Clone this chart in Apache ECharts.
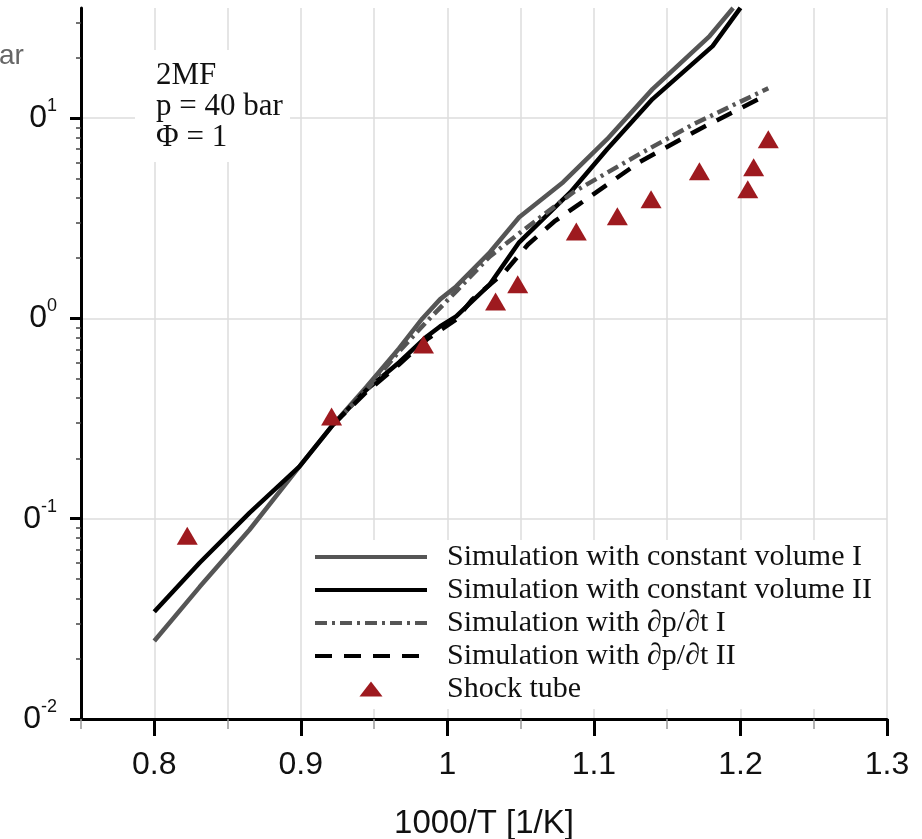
<!DOCTYPE html>
<html>
<head>
<meta charset="utf-8">
<script src="https://cdn.jsdelivr.net/npm/echarts@6/dist/echarts.min.js"></script>
<style>
html,body{margin:0;padding:0;background:#fff;}
#chart{width:922px;height:839px;}
</style>
</head>
<body>
<div id="chart"></div>
<script>
// ---- data ----
var constVolIX  = [0.800, 0.831, 0.865, 0.899, 0.922, 0.945, 0.967, 0.983, 0.995, 1.006, 1.029, 1.049, 1.079, 1.109, 1.140, 1.179, 1.195];
var constVolIY  = [0.0245, 0.0457, 0.0881, 0.182, 0.295, 0.457, 0.708, 1.00, 1.245, 1.445, 2.14, 3.20, 4.79, 7.85, 13.96, 25.7, 35.5];

var constVolIIX = [0.800, 0.831, 0.865, 0.899, 0.922, 0.945, 0.967, 0.986, 0.995, 1.006, 1.029, 1.049, 1.084, 1.109, 1.140, 1.181, 1.200];
var constVolIIY = [0.0343, 0.0603, 0.107, 0.182, 0.295, 0.442, 0.603, 0.813, 0.912, 1.023, 1.48, 2.40, 4.27, 7.00, 12.45, 22.9, 35.5];

var dpdtIX  = [0.922, 0.945, 0.967, 0.986, 1.006, 1.029, 1.049, 1.086, 1.131, 1.168, 1.219];
var dpdtIY  = [0.295, 0.440, 0.684, 0.966, 1.365, 2.04, 2.66, 4.27, 6.61, 9.33, 14.1];

var dpdtIIX = [0.922, 0.945, 0.967, 0.986, 1.006, 1.017, 1.039, 1.055, 1.073, 1.090, 1.131, 1.172, 1.219];
var dpdtIIY = [0.295, 0.431, 0.589, 0.785, 0.989, 1.245, 1.70, 2.34, 3.05, 3.72, 6.03, 8.81, 13.18];

var shockX = [0.8225, 0.921, 0.9837, 1.0329, 1.048, 1.088, 1.116, 1.139, 1.172, 1.205, 1.209, 1.219];
var shockY = [0.0822, 0.324, 0.741, 1.216, 1.48, 2.72, 3.24, 3.94, 5.43, 4.42, 5.69, 7.85];

var seriesNames = ['Simulation with constant volume I', 'Simulation with constant volume II',
                   'Simulation with \u2202p/\u2202t I', 'Simulation with \u2202p/\u2202t II', 'Shock tube'];

var xMajorTicks = [0.8, 0.9, 1.0, 1.1, 1.2, 1.3];
var xMinorTicks = [0.75, 0.85, 0.95, 1.05, 1.15, 1.25];
var yDecadeTicks = [0.01, 0.1, 1, 10];
var yDecadeExps  = ['-2', '-1', '0', '1'];
var yMinorTicks = [0.02,0.03,0.04,0.05,0.06,0.07,0.08,0.09,
                   0.2,0.3,0.4,0.5,0.6,0.7,0.8,0.9,
                   2,3,4,5,6,7,8,9,20,30];

function pairs(xs, ys){ return xs.map(function(x,i){ return [x, ys[i]]; }); }

var Y_MAX = 35.48;
var gridLine = '#dcdcdc';
var hideSym = {opacity:0, color:'rgba(0,0,0,0)', borderWidth:0};

var chart = echarts.init(document.getElementById('chart'), null, {renderer:'canvas'});
chart.setOption({
  animation: false,
  backgroundColor: '#fff',
  grid: {left: 81, right: 35, top: 8, bottom: 120, containLabel: false, outerBoundsMode: 'none'},
  xAxis: [
    { type:'value', min:0.75, max:1.3, interval:0.05, position:'bottom',
      axisLine:{show:true, lineStyle:{color:'#000', width:3}},
      axisTick:{show:false},
      splitLine:{show:true, lineStyle:{color:gridLine, width:1.5}},
      axisLabel:{customValues: xMajorTicks, margin: 30,
        fontFamily:'Liberation Sans', fontSize:32, color:'#111',
        formatter:function(v){ return String(Math.round(v*10)/10); }},
      name:'1000/T [1/K]', nameLocation:'middle', nameGap: 88,
      nameTextStyle:{fontFamily:'Liberation Sans', fontSize:33, color:'#111'}
    },
    { type:'value', min:0.75, max:1.3, position:'bottom', offset:0,
      axisLine:{show:false}, splitLine:{show:false}, axisLabel:{show:false},
      axisTick:{show:true, customValues: xMajorTicks, length:17, lineStyle:{color:'#000', width:3}}
    },
    { type:'value', min:0.75, max:1.3, position:'bottom', offset:0,
      axisLine:{show:false}, splitLine:{show:false}, axisLabel:{show:false},
      axisTick:{show:true, customValues: xMinorTicks, length:10, lineStyle:{color:'#999', width:1.5}}
    }
  ],
  yAxis: [
    { type:'log', logBase:10, min:0.01, max:Y_MAX, position:'left', offset:0,
      axisLine:{show:true, lineStyle:{color:'#000', width:3}},
      axisTick:{show:true, customValues: yDecadeTicks, length:11, lineStyle:{color:'#000', width:3}},
      splitLine:{show:true, lineStyle:{color:gridLine, width:1.5}},
      axisLabel:{customValues: yDecadeTicks, margin:24, fontSize:32,
        formatter:function(v){
          var i = yDecadeTicks.indexOf(v);
          if (i < 0) { i = Math.round(Math.log10(v)) + 2; }
          return '{b|0}{s|' + yDecadeExps[i] + '}';
        },
        rich:{
          b:{fontFamily:'Liberation Sans', fontSize:32, lineHeight:42, color:'#111', verticalAlign:'middle'},
          s:{fontFamily:'Liberation Sans', fontSize:18, lineHeight:18, color:'#111', verticalAlign:'top'}
        }}
    },
    { type:'log', logBase:10, min:0.01, max:Y_MAX, position:'left', offset:0,
      axisLine:{show:false}, splitLine:{show:false}, axisLabel:{show:false},
      axisTick:{show:true, customValues: yMinorTicks, length:5, lineStyle:{color:'#444', width:1.5}}
    }
  ],
  legend: {
    orient:'vertical', left:305, top:540, itemWidth:112, itemHeight:15, itemGap:3,
    backgroundColor:'#fff', padding:[2, 12, 5, 8], selectedMode:false,
    lineStyle:{width:4},
    textStyle:{fontFamily:'Liberation Serif', fontSize:30, lineHeight:30, color:'#111', padding:[0,0,0,15]},
    data:[
      {name: seriesNames[0], itemStyle: hideSym}, {name: seriesNames[1], itemStyle: hideSym},
      {name: seriesNames[2], itemStyle: hideSym}, {name: seriesNames[3], itemStyle: hideSym},
      {name: seriesNames[4], icon:'path://M10,0L20,13L0,13Z'}
    ]
  },
  graphic: [
    {type:'rect', z:100, shape:{x:135, y:50, width:155, height:112}, style:{fill:'#fff'}},
    {type:'text', z:101, left:156, top:60,
      style:{text:'2MF\np = 40 bar\n\u03A6 = 1', font:'31px "Liberation Serif"', lineHeight:31, fill:'#111'}},
    {type:'text', z:101, left:-1, top:42,
      style:{text:'ar', font:'28px "Liberation Sans"', fill:'#666'}}
  ],
  series: [
    {name:seriesNames[0], type:'line', symbol:'none', data:pairs(constVolIX, constVolIY),
      lineStyle:{color:'#555', width:4.5}, itemStyle:{color:'#555'}, z:3},
    {name:seriesNames[1], type:'line', symbol:'none', data:pairs(constVolIIX, constVolIIY),
      lineStyle:{color:'#000', width:4.5}, itemStyle:{color:'#000'}, z:3},
    {name:seriesNames[2], type:'line', symbol:'none', data:pairs(dpdtIX, dpdtIY),
      lineStyle:{color:'#555', width:4.5, type:[12,5,3,5]}, itemStyle:{color:'#555'}, z:3},
    {name:seriesNames[3], type:'line', symbol:'none', data:pairs(dpdtIIX, dpdtIIY),
      lineStyle:{color:'#000', width:4.5, type:[17,12]}, itemStyle:{color:'#000'}, z:3},
    {name:seriesNames[4], type:'scatter', symbol:'triangle', symbolSize:[21,18],
      data:pairs(shockX, shockY), itemStyle:{color:'#9e1a1f', opacity:1}, z:4}
  ]
});
</script>
</body>
</html>
